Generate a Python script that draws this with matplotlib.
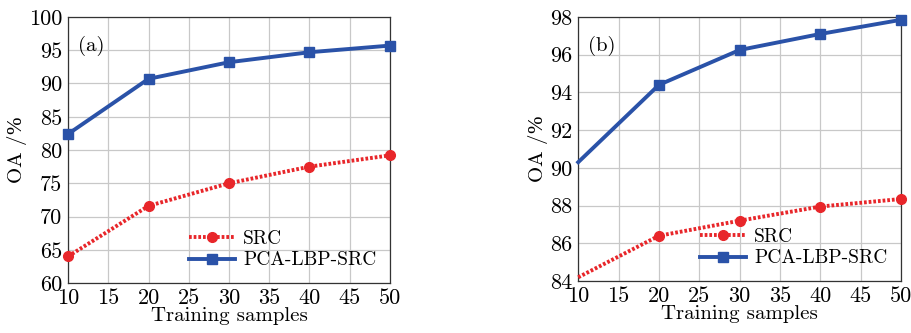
import numpy as np
import matplotlib
matplotlib.use("Agg")
import matplotlib.pyplot as plt

plt.rcParams['font.family'] = ['cmr10', 'DejaVu Serif']
plt.rcParams['axes.formatter.use_mathtext'] = False
plt.rcParams['mathtext.fontset'] = 'custom'
plt.rcParams['mathtext.rm'] = 'Liberation Serif'

samples = [10, 20, 30, 40, 50]
src_a = [64.0, 71.6, 75.0, 77.5, 79.2]
pca_a = [82.4, 90.7, 93.2, 94.7, 95.7]
src_b = [84.2, 86.4, 87.2, 87.95, 88.35]
pca_b = [90.3, 94.4, 96.25, 97.1, 97.85]

red = '#e8262a'
blue = '#2a52a8'

fig = plt.figure(figsize=(9.12, 3.33), dpi=100)
ax1 = fig.add_axes([0.0746, 0.150, 0.353, 0.799])
ax2 = fig.add_axes([0.634, 0.156, 0.354, 0.793])

def draw(ax, src, pca, yt, lab, every):
    ax.plot(samples, src, color=red, lw=2.8, ls=(0, (0.7, 0.5)), marker='o', ms=7,
            markevery=every, label='SRC', clip_on=False, zorder=3)
    ax.plot(samples, pca, '-', color=blue, lw=2.8, marker='s', ms=7,
            markevery=every, label='PCA-LBP-SRC', clip_on=False, zorder=3)
    ax.set_xlim(10, 50)
    ax.set_ylim(yt[0], yt[-1])
    ax.set_xticks(range(10, 51, 5))
    ax.set_yticks(yt)
    ax.set_xticklabels([str(v) for v in range(10, 51, 5)])
    ax.set_yticklabels([str(v) for v in yt])
    ax.grid(True, color='#c8c8c8', lw=0.9)
    ax.tick_params(labelsize=16, length=0, pad=4)
    ax.set_xlabel('Training samples', fontsize=15, labelpad=-1)
    ax.set_ylabel(r'OA /$\mathrm{\%}$', fontsize=15, labelpad=0)
    ax.text(0.03, 0.93, lab, transform=ax.transAxes, fontsize=15, va='top')
    for s in ax.spines.values():
        s.set_color('#333333')
        s.set_linewidth(0.9)
    ax.legend(loc='lower right', frameon=False, fontsize=14, handlelength=2.4,
              handletextpad=0.4, labelspacing=0.2, borderaxespad=0.3)

draw(ax1, src_a, pca_a, list(range(60, 101, 5)), '(a)', None)
draw(ax2, src_b, pca_b, list(range(84, 99, 2)), '(b)', [1, 2, 3, 4])

fig.savefig('out.png', dpi=100)
